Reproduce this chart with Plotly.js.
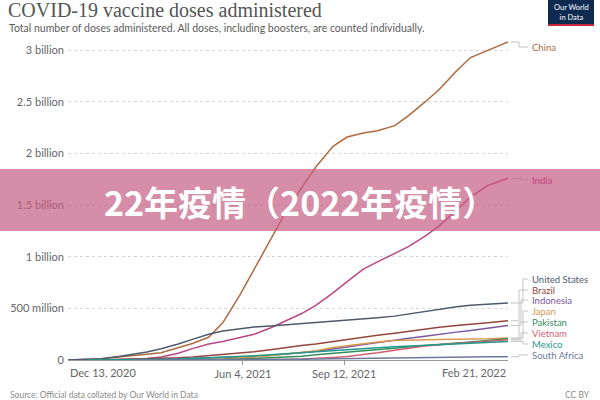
<!DOCTYPE html>
<html><head><meta charset="utf-8">
<script src="https://cdn.plot.ly/plotly-3.0.1.min.js"></script>
<style>html,body{margin:0;padding:0;background:#fff}#chart{width:600px;height:400px}</style>
</head><body><div id="chart"></div>
<script>
var dates = ['2020-12-13','2021-01-01','2021-01-15','2021-02-01','2021-02-15','2021-03-01','2021-03-15','2021-04-01','2021-04-15','2021-05-01','2021-05-15','2021-06-01','2021-06-15','2021-07-01','2021-07-15','2021-08-01','2021-08-15','2021-09-01','2021-09-15','2021-10-01','2021-10-15','2021-11-01','2021-11-15','2021-12-01','2021-12-15','2022-01-01','2022-01-15','2022-02-01','2022-02-21'];
// values in billions of doses
var china = [0,0.005,0.012,0.03,0.04,0.055,0.07,0.12,0.16,0.22,0.36,0.63,0.88,1.16,1.41,1.67,1.87,2.07,2.16,2.20,2.22,2.27,2.37,2.50,2.62,2.80,2.93,3.00,3.08];
var india = [null,null,0,0.004,0.008,0.014,0.03,0.065,0.11,0.155,0.18,0.215,0.25,0.31,0.37,0.45,0.53,0.65,0.76,0.88,0.95,1.03,1.10,1.20,1.30,1.45,1.58,1.69,1.76];
var usa = [0,0.004,0.012,0.033,0.055,0.078,0.11,0.155,0.20,0.25,0.28,0.30,0.32,0.33,0.34,0.35,0.36,0.375,0.385,0.395,0.41,0.425,0.445,0.47,0.495,0.515,0.53,0.542,0.552];
var brazil = [null,null,0,0.004,0.006,0.009,0.013,0.022,0.03,0.042,0.05,0.065,0.08,0.10,0.12,0.14,0.155,0.18,0.20,0.22,0.24,0.26,0.28,0.30,0.318,0.335,0.345,0.36,0.38];
var indonesia = [null,null,0,0.001,0.002,0.003,0.006,0.012,0.016,0.02,0.022,0.027,0.035,0.045,0.055,0.07,0.085,0.105,0.125,0.15,0.17,0.19,0.21,0.23,0.25,0.27,0.285,0.305,0.335];
var japan = [null,null,null,null,0,0.0002,0.0005,0.001,0.002,0.004,0.009,0.016,0.028,0.04,0.055,0.072,0.09,0.122,0.14,0.16,0.175,0.19,0.195,0.197,0.198,0.2,0.201,0.205,0.213];
var pakistan = [null,null,null,0,0.0002,0.0005,0.001,0.002,0.003,0.004,0.006,0.009,0.014,0.02,0.027,0.037,0.05,0.063,0.075,0.088,0.10,0.11,0.125,0.14,0.153,0.165,0.175,0.19,0.205];
var vietnam = [null,null,null,null,null,null,0,0.0001,0.0002,0.0005,0.0008,0.001,0.002,0.004,0.005,0.009,0.014,0.025,0.035,0.05,0.07,0.095,0.115,0.135,0.148,0.16,0.168,0.177,0.195];
var mexico = [null,0,0.0004,0.0007,0.0015,0.0025,0.005,0.009,0.014,0.02,0.025,0.033,0.04,0.05,0.058,0.068,0.076,0.09,0.10,0.11,0.118,0.128,0.134,0.14,0.145,0.153,0.16,0.17,0.18];
var southAfrica = [null,null,null,null,0,0.0001,0.0002,0.0003,0.0003,0.0004,0.0006,0.001,0.002,0.004,0.006,0.008,0.010,0.013,0.015,0.018,0.020,0.023,0.024,0.026,0.027,0.029,0.030,0.031,0.032];

var seriesNames = ['China','India','United States','Brazil','Indonesia','Japan','Pakistan','Vietnam','Mexico','South Africa'];
var seriesValues = [china,india,usa,brazil,indonesia,japan,pakistan,vietnam,mexico,southAfrica];
var colors = ['#ad6a40','#bb4683','#4d5a6c','#94453f','#7d56a0','#d99a4e','#2f8f5b','#d35f73','#1f9a8a','#6c7a9c'];
var labelPixelY = [47,180,279,290,300,311,322,333,344,355];

var yTickVals = [0,0.5e9,1e9,1.5e9,2e9,2.5e9,3e9];
var yTickText = ['0','500 million','1 billion','1.5 billion','2 billion','2.5 billion','3 billion'];
var xTickVals = ['2021-06-04','2021-09-12'];
var xTickText = ['Jun 4, 2021','Sep 12, 2021'];
var xStart = '2020-12-13', xEnd = '2022-02-21';

var L = 68, R = 92, T = 40, B = 40, W = 600, H = 400;
var pw = W - L - R, ph = H - T - B;
var yMax = 3.1e9;
function px2paperX(p){ return (p - L) / pw; }
function px2paperY(p){ return (H - B - p) / ph; }
function px2dataY(p){ return px2paperY(p) * yMax; }

var traces = seriesNames.map(function(n,i){
  return {x: dates, y: seriesValues[i].map(function(v){return v===null?null:v*1e9;}),
    type:'scatter', mode:'lines', name:n, line:{color:colors[i], width:1.5}, hoverinfo:'skip'};
});

var annotations = [];
var shapes = [];
var sans = 'Lato, "Liberation Sans", Arial, sans-serif';
seriesNames.forEach(function(n,i){
  var vals = seriesValues[i];
  var endV = vals[vals.length-1]*1e9;
  var ly = px2dataY(labelPixelY[i]);
  var x0 = px2paperX(W - R + 3), xk = px2paperX(W - R + 11 + (i%3)*2), x1 = px2paperX(W - R + 20);
  shapes.push({type:'path', xref:'paper', yref:'y',
    path:'M'+x0+','+endV+' L'+xk+','+endV+' L'+xk+','+ly+' L'+x1+','+ly,
    line:{color:'#c4c4c4', width:1}});
  annotations.push({xref:'paper', yref:'y', x:px2paperX(W - R + 23), y:ly, xanchor:'left', yanchor:'middle',
    text:n, showarrow:false, borderpad:0, font:{family:sans, size:9.5, color:colors[i]}});
});

// x end labels
annotations.push({xref:'paper', yref:'paper', x:0, y:px2paperY(372), xanchor:'left', yanchor:'middle', text:'Dec 13, 2020', showarrow:false, font:{family:sans, size:11, color:'#666'}});
annotations.push({xref:'paper', yref:'paper', x:1, y:px2paperY(372), xanchor:'right', yanchor:'middle', text:'Feb 21, 2022', showarrow:false, font:{family:sans, size:11, color:'#666'}});
// subtitle
annotations.push({xref:'paper', yref:'paper', x:px2paperX(8), y:px2paperY(27.5), xanchor:'left', yanchor:'middle', text:'Total number of doses administered. All doses, including boosters, are counted individually.', showarrow:false, borderpad:0, font:{family:sans, size:10.5, color:'#5b5b5b'}});
// source + license
annotations.push({xref:'paper', yref:'paper', x:px2paperX(8), y:px2paperY(395), xanchor:'left', yanchor:'middle', text:'Source: Official data collated by Our World in Data', showarrow:false, font:{family:sans, size:8.5, color:'#8a8a8a'}});
annotations.push({xref:'paper', yref:'paper', x:px2paperX(592), y:px2paperY(395), xanchor:'right', yanchor:'middle', text:'CC BY', showarrow:false, font:{family:sans, size:8.5, color:'#8a8a8a'}});
// logo
shapes.push({type:'rect', xref:'paper', yref:'paper', x0:px2paperX(548), x1:px2paperX(594), y0:px2paperY(0), y1:px2paperY(24), fillcolor:'#0e2a50', line:{width:0}});
shapes.push({type:'rect', xref:'paper', yref:'paper', x0:px2paperX(548), x1:px2paperX(594), y0:px2paperY(24), y1:px2paperY(26), fillcolor:'#c8243a', line:{width:0}});
annotations.push({xref:'paper', yref:'paper', x:px2paperX(571), y:px2paperY(12), xanchor:'center', yanchor:'middle', text:'Our World<br>in Data', showarrow:false, font:{family:sans, size:7.5, color:'#fff'}});
// banner overlay
shapes.push({type:'rect', xref:'paper', yref:'paper', layer:'above', x0:px2paperX(0), x1:px2paperX(600), y0:px2paperY(231), y1:px2paperY(169), fillcolor:'rgba(196,92,130,0.70)', line:{width:0}});
annotations.push({xref:'paper', yref:'paper', x:px2paperX(300), y:px2paperY(201), xanchor:'center', yanchor:'middle', text:'<b>22年疫情（2022年疫情）</b>', showarrow:false, font:{family:'"Noto Sans CJK SC", sans-serif', size:34, color:'#ffffff'}});

var layout = {
  width: W, height: H,
  margin: {l:L, r:R, t:T, b:B, pad:0},
  paper_bgcolor:'#fff', plot_bgcolor:'#fff',
  showlegend:false,
  title: {text:'COVID-19 vaccine doses administered', x:8/W, xanchor:'left', xref:'container', y:1-10/H, yanchor:'middle', yref:'container',
    font:{family:'"Liberation Serif", "DejaVu Serif", serif', size:20, color:'#555'}},
  xaxis: {type:'date', range:[xStart, xEnd], tickvals:xTickVals, ticktext:xTickText, showgrid:false, zeroline:false,
    showline:true, linecolor:'#999', linewidth:1, ticks:'outside', ticklen:4, tickcolor:'#999',
    tickfont:{family:sans, size:11, color:'#666'}, fixedrange:true},
  yaxis: {range:[0, yMax], tickvals:yTickVals, ticktext:yTickText, showgrid:true, gridcolor:'#d6d6d6', griddash:'dot',
    zeroline:false, showline:false, ticks:'', ticklabelstandoff:3, tickfont:{family:sans, size:11, color:'#666'}, fixedrange:true},
  annotations: annotations,
  shapes: shapes,
  font:{family:sans}
};
Plotly.newPlot('chart', traces, layout, {displayModeBar:false, staticPlot:true});
</script></body></html>
